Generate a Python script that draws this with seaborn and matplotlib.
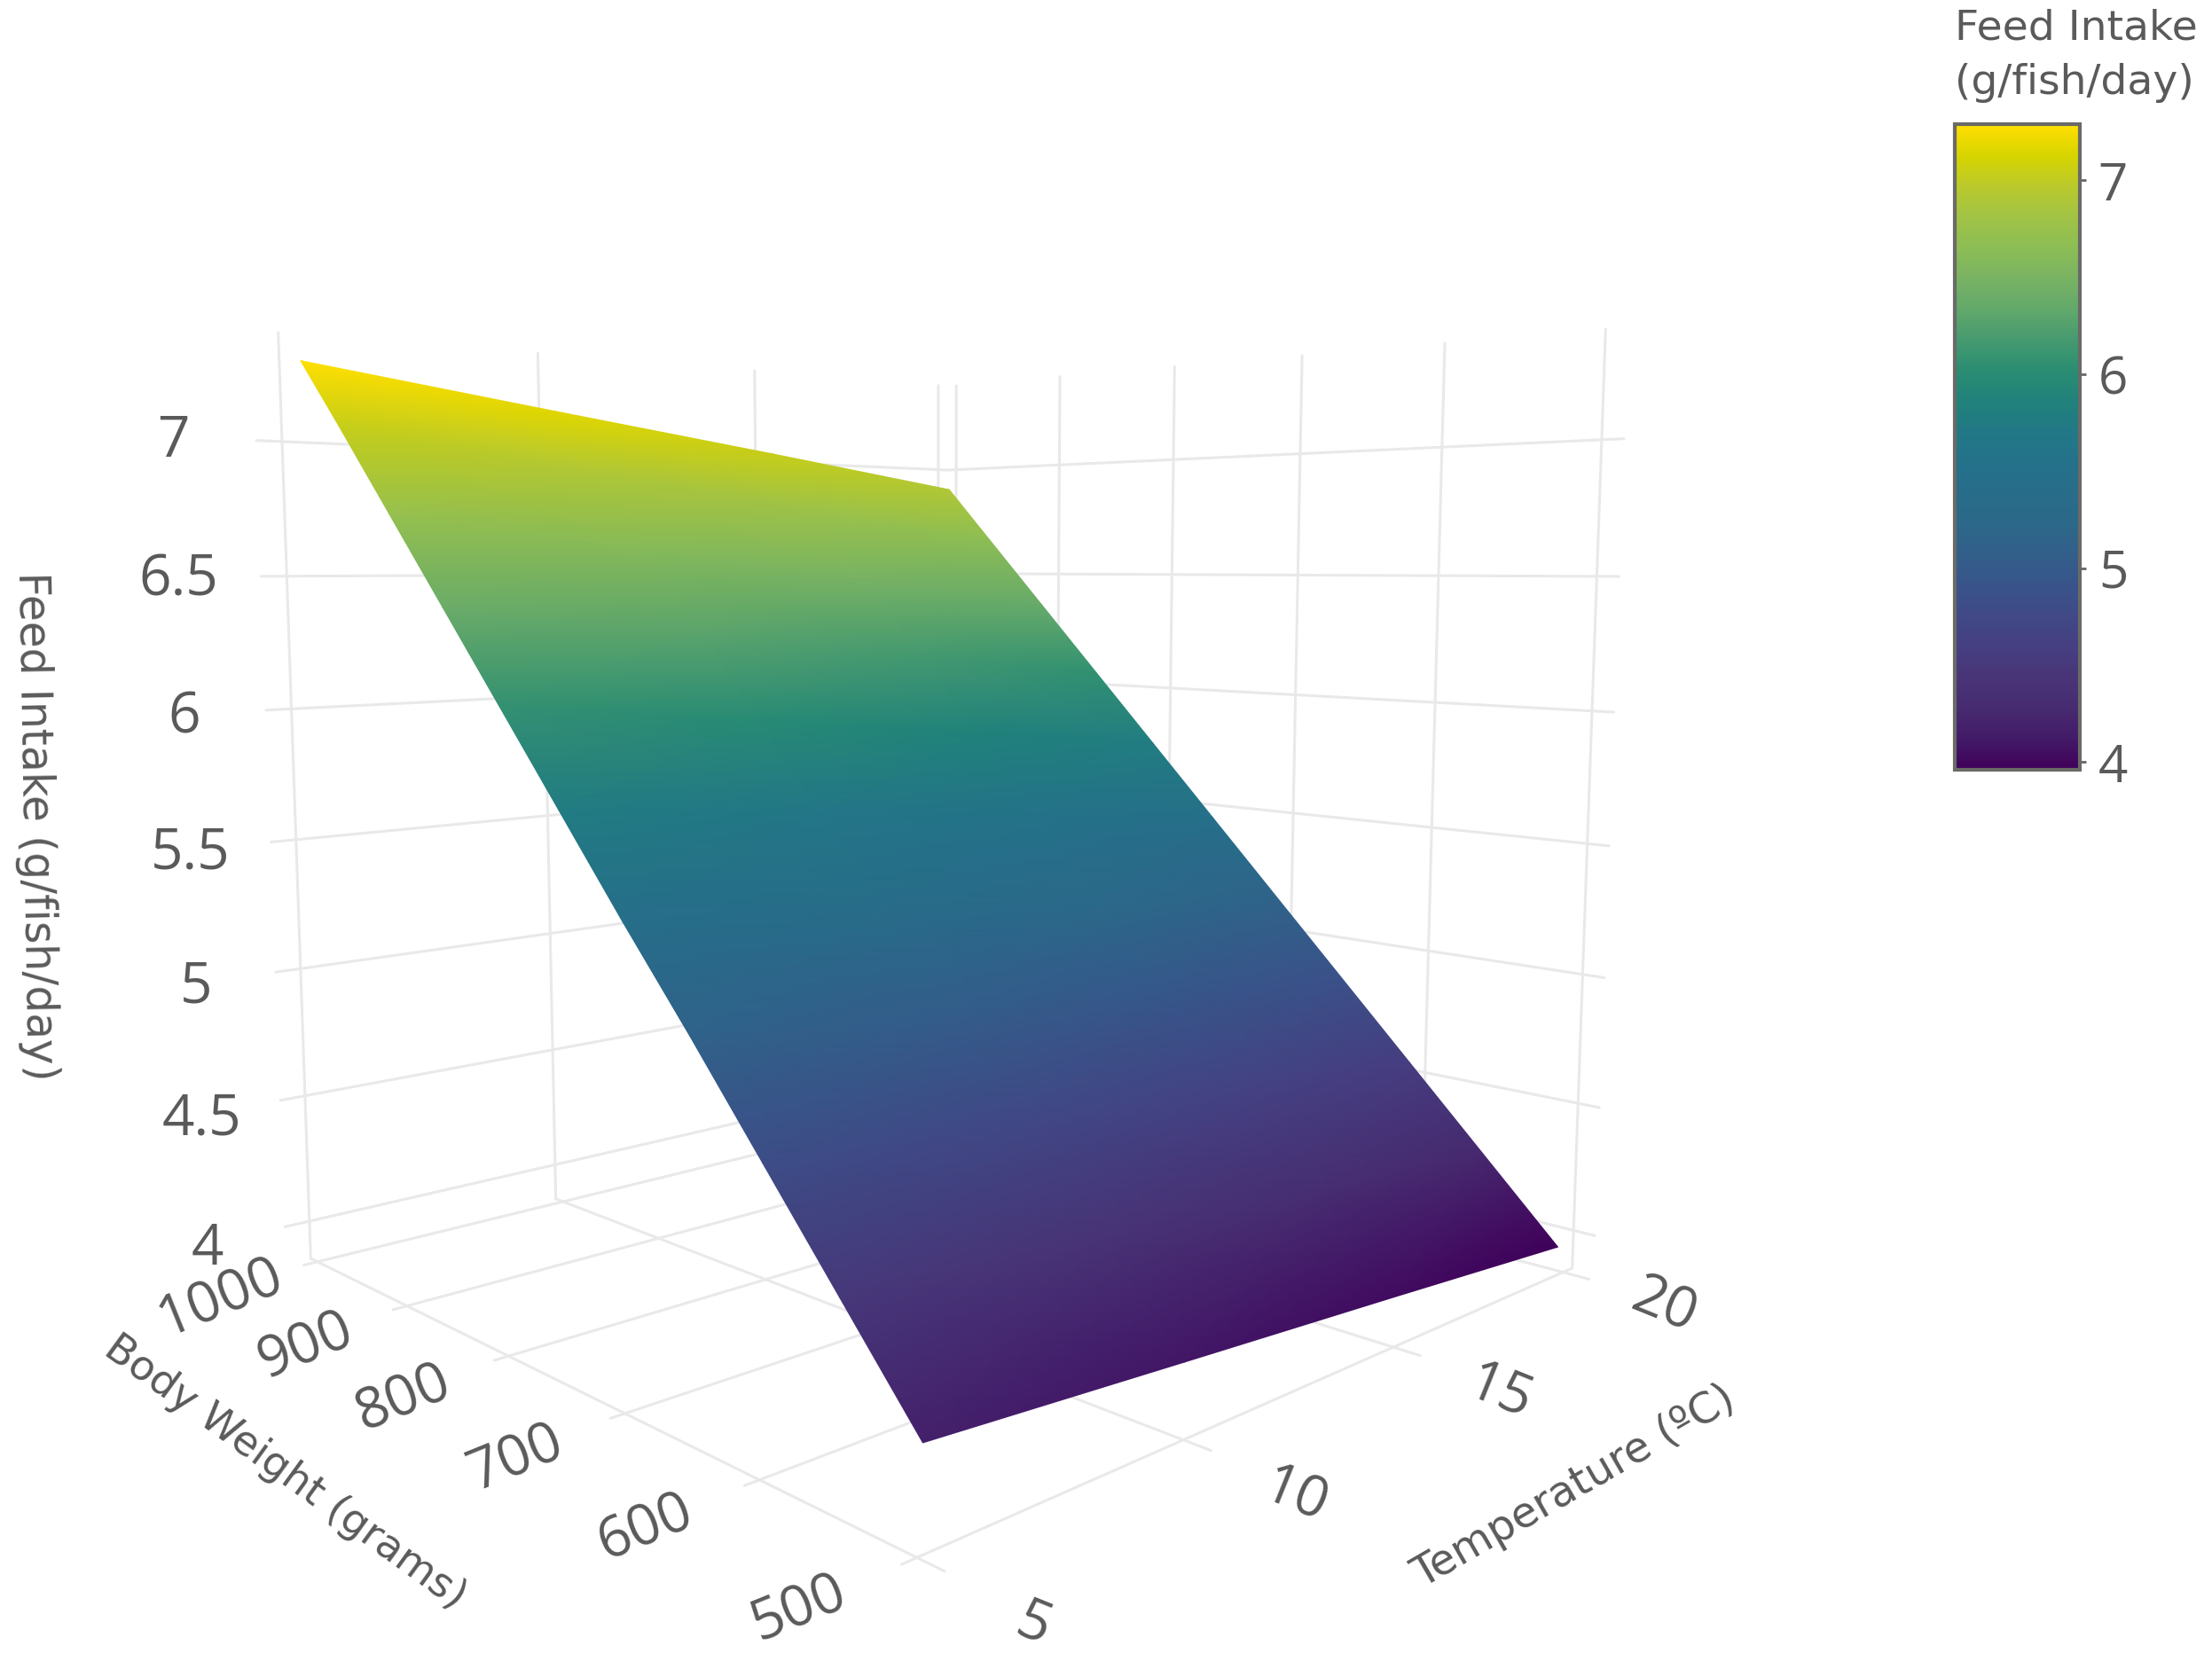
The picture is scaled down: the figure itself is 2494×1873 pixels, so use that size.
import matplotlib
matplotlib.use("Agg")
import numpy as np
import matplotlib.pyplot as plt
import seaborn as sns
from matplotlib.cm import ScalarMappable
from matplotlib.colors import Normalize
from mpl_toolkits.mplot3d import proj3d

temperature = [5.1, 10, 15, 19.8]
body_weight = [500, 550, 600, 650, 700, 750, 800, 850, 900, 950, 990]
# one row per body weight, one column per temperature
feed_intake = [
    [4.17, 4.10, 4.03, 3.96],
    [4.49, 4.41, 4.33, 4.26],
    [4.81, 4.72, 4.64, 4.56],
    [5.13, 5.04, 4.95, 4.86],
    [5.44, 5.35, 5.25, 5.16],
    [5.76, 5.66, 5.56, 5.46],
    [6.08, 5.97, 5.87, 5.76],
    [6.40, 6.29, 6.17, 6.06],
    [6.72, 6.60, 6.48, 6.36],
    [7.04, 6.91, 6.78, 6.66],
    [7.29, 7.16, 7.03, 6.90],
]

temp_ticks = [5, 10, 15, 20]
weight_ticks = [500, 600, 700, 800, 900, 1000]
intake_ticks = [4, 4.5, 5, 5.5, 6, 6.5, 7]
bar_ticks = [4, 5, 6, 7]
intake_min, intake_max = 3.96, 7.29

# washed out viridis as it looks in the colour bar, low to high
bar_colors = ['#40005a', '#431b68', '#472b70', '#483577', '#463f82', '#404986', '#38548a', '#325f8a',
              '#2c6889', '#276d89', '#24718a', '#227886', '#20827b', '#2a8d72', '#469a70', '#62a86b',
              '#79b363', '#8cbd55', '#a1c346', '#bac92c', '#d6d400', '#ffdf00']

T0, T1 = 5, 20.3
W0, W1 = 500, 1008
Z0, Z1 = 3.85, 7.4

sns.set_theme(style="white")
plt.rcParams['font.family'] = ['DejaVu Sans']
cmap = sns.blend_palette(bar_colors, as_cmap=True)
norm = Normalize(intake_min, intake_max)

PX_W, PX_H = 2494, 1873
grid_col = '#e9e9ea'
text_col = '#5a5a5a'
tick_font = 'Open Sans'

fig = plt.figure(figsize=(PX_W / 100, PX_H / 100), dpi=100, facecolor='white')
rect = [0.0634, 0.0334, 0.7015, 0.9340]
ax = fig.add_axes(rect, projection='3d', proj_type='persp', focal_length=0.252)
ax.set_xlim(T0, T1, view_margin=0)
ax.set_ylim(W0, W1, view_margin=0)
ax.set_zlim(Z0, Z1, view_margin=0)
ax.set_box_aspect((0.999, 1, 1.025))
ax.view_init(elev=6.587, azim=-133.684)
ax.set_axis_off()

# grid on the floor and on the two back walls
for t in temp_ticks:
    ax.plot([t, t], [W0 - 16, W1], [Z0, Z0], color=grid_col, lw=2.2)
    ax.plot([t, t], [W1, W1], [Z0, Z1], color=grid_col, lw=2.2)
for w in weight_ticks:
    ax.plot([T0 - 0.25, T1], [w, w], [Z0, Z0], color=grid_col, lw=2.2)
    ax.plot([T1, T1], [w, w], [Z0, Z1], color=grid_col, lw=2.2)
for z in intake_ticks:
    ax.plot([T0 - 0.45, T1], [W1, W1], [z, z], color=grid_col, lw=2.2)
    ax.plot([T1, T1], [W0 - 13, W1], [z, z], color=grid_col, lw=2.2)

# overlay axes: the surface is projected through the 3d axes and shaded smoothly
overlay = fig.add_axes(rect, facecolor='none')
overlay.set_axis_off()
M = ax.get_proj()


def project(t, w, z):
    t, w, z = [np.asarray(a, float) for a in (t, w, z)]
    u, v, _ = proj3d.proj_transform(t.ravel(), w.ravel(), z.ravel(), M)
    return np.reshape(u, t.shape), np.reshape(v, t.shape)


tt, ww = np.meshgrid(temperature, body_weight)
zz = np.array(feed_intake)
uu, vv = project(tt, ww, zz)
surface = overlay.pcolormesh(uu, vv, zz, shading='gouraud', cmap=cmap, norm=norm, transform=ax.transData)
surface.set_clip_on(False)


def tick_label(text, t, w, z, dx, dy, rot, size=46):
    u, v = project([t], [w], [z])
    overlay.annotate(text, xy=(float(u[0]), float(v[0])), xycoords=ax.transData, xytext=(dx, dy),
                     textcoords='offset pixels', ha='center', va='center', rotation=rot,
                     rotation_mode='anchor', fontsize=size, color=text_col, family=tick_font,
                     annotation_clip=False)


for z in intake_ticks:
    tick_label(f'{z:g}', T0, W1, z, -115 - (z - 4) * 2.7, -32 + (z - 4) * 10.7, 0)
for w in weight_ticks:
    tick_label(str(w), T0, w, Z0, -133 + (w - 500) * 0.048, -58 + (w - 500) * 0.032, 22)
for t in temp_ticks:
    tick_label(str(t), t, W0, Z0, 132 - (t - 5) * 1.2, -76 + (t - 5) * 2.5, -22)

# axis titles
fig.text(40 / PX_W, 1 - 932 / PX_H, 'Feed Intake (g/fish/day)', rotation=-89, ha='center', va='center',
         fontsize=35, color=text_col)
fig.text(321 / PX_W, 1 - 1661 / PX_H, 'Body Weight (grams)', rotation=-36, ha='center', va='center',
         fontsize=33.5, color=text_col, rotation_mode='anchor')
fig.text(1775 / PX_W, 1 - 1677 / PX_H, 'Temperature (ºC)', rotation=30, ha='center', va='center',
         fontsize=34.5, color=text_col, rotation_mode='anchor')

# colour bar
cax = fig.add_axes([2204 / PX_W, 1 - 868 / PX_H, 141 / PX_W, 728 / PX_H])
cbar = fig.colorbar(ScalarMappable(norm=norm, cmap=cmap), cax=cax, ticks=bar_ticks)
cbar.outline.set_edgecolor('#6a6a66')
cbar.outline.set_linewidth(3)
cax.tick_params(right=True, length=5, width=2, color='#666666', pad=10, labelsize=42, labelcolor=text_col)
for lab in cax.get_yticklabels():
    lab.set_family(tick_font)
fig.text(2204 / PX_W, 1 - 32 / PX_H, 'Feed Intake', ha='left', va='center', fontsize=34, color=text_col)
fig.text(2204 / PX_W, 1 - 93 / PX_H, '(g/fish/day)', ha='left', va='center', fontsize=34, color=text_col)

fig.savefig('out.png', dpi=100, facecolor='white')
